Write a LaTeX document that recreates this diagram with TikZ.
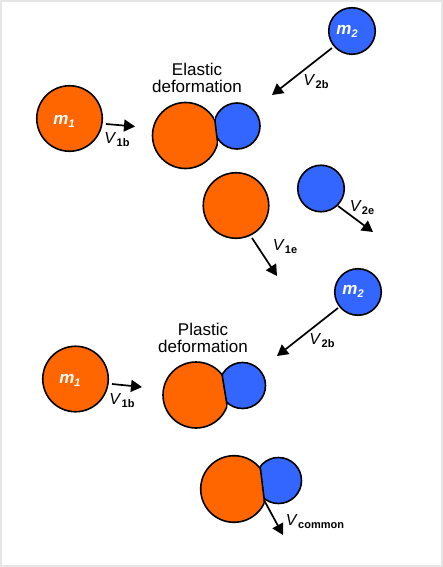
\documentclass[tikz,border=0pt]{standalone}
\usepackage{fontspec}
\setmainfont{Liberation Sans}
\usetikzlibrary{arrows.meta,calc}
\definecolor{orng}{HTML}{FF6600}
\definecolor{blu}{HTML}{3366FF}
\definecolor{framec}{HTML}{E6E6E6}
\newcommand\vel[2]{\textit{#1}\kern0.3pt\raisebox{-3pt}{\fontsize{11}{11}\selectfont\bfseries #2}}
\newcommand\mlab[1]{\textbf{\textit{m}}\raisebox{-3pt}{\fontsize{11}{11}\selectfont\bfseries\itshape #1}}
\newcommand\dpair[6]{%
  \coordinate (LA) at ($(#5)!-4!(#6)$);
  \coordinate (LB) at ($(#5)!5!(#6)$);
  \begin{scope}
    \clip (LA) -- (LB) -- ($(LB)+(-300,0)$) -- ($(LA)+(-300,0)$) -- cycle;
    \draw[outl,fill=orng] (#1) circle[radius=#2];
  \end{scope}
  \begin{scope}
    \clip (LA) -- (LB) -- ($(LB)+(300,0)$) -- ($(LA)+(300,0)$) -- cycle;
    \draw[outl,fill=blu] (#3) circle[radius=#4];
  \end{scope}
  \begin{scope}
    \clip (#1) circle[radius=#2] (#3) circle[radius=#4];
    \draw[outl] (LA) -- (LB);
  \end{scope}}
\begin{document}
\begin{tikzpicture}[x=1pt,y=-1pt,
  outl/.style={draw=black,line width=1.6pt},
  ball/.style={circle,draw=black,line width=1.6pt,inner sep=0pt},
  vec/.style={line width=1.7pt,-{Triangle[length=11pt,width=12pt]}},
  lab/.style={font=\fontsize{16}{17}\selectfont,inner sep=0pt},
  mass/.style={text=white,font=\fontsize{17}{17}\selectfont\bfseries\itshape,inner sep=0pt},
  ttl/.style={align=center,font=\fontsize{17}{17}\selectfont,inner sep=0pt}]
\fill[framec] (0,0) rectangle (443,567);
\fill[white] (2,2) rectangle (441,565);
\useasboundingbox (0,0) rectangle (443,567);

% ---------- Elastic ----------
\node[ball,fill=blu,minimum size=46.5pt] (m2a) at (352,31) {};
\node[mass] (m2alab) at (347,31) {\mlab{2}};
\coordinate (v2bs) at (332,48);
\coordinate (v2bt) at (272,95);
\draw[vec] (v2bs) -- (v2bt);
\node[lab] (v2blab) at (316,82) {\vel{V}{2b}};

\node[ttl] (elast) at (197,78.4) {Elastic\\deformation};

\node[ball,fill=orng,minimum size=65.5pt] (m1a) at (69.5,118.5) {};
\node[mass] (m1alab) at (64,121) {\mlab{1}};
\coordinate (v1bs) at (106,124);
\coordinate (v1bt) at (135,126.5);
\draw[vec] (v1bs) -- (v1bt);
\node[lab] (v1blab) at (117,140) {\vel{V}{1b}};

\dpair{185.5,135.5}{33}{237,126}{23}{214,113}{218,146}

\node[ball,fill=orng,minimum size=65.5pt] (o1e) at (236,205.5) {};
\coordinate (v1es) at (252,238);
\coordinate (v1et) at (277,276);
\draw[vec] (v1es) -- (v1et);
\node[lab] (v1elab) at (285,247) {\vel{V}{1e}};

\node[ball,fill=blu,minimum size=46.5pt] (b2e) at (321,188.5) {};
\coordinate (v2es) at (338,206);
\coordinate (v2et) at (373,232);
\draw[vec] (v2es) -- (v2et);
\node[lab] (v2elab) at (362,208) {\vel{V}{2e}};

% ---------- Plastic ----------
\node[ball,fill=blu,minimum size=46.5pt] (m2b) at (358,292) {};
\node[mass] (m2blab) at (353,291) {\mlab{2}};
\coordinate (p2bs) at (338,308);
\coordinate (p2bt) at (277,356);
\draw[vec] (p2bs) -- (p2bt);
\node[lab] (p2blab) at (322,341) {\vel{V}{2b}};

\node[ttl] (plast) at (203,338.4) {Plastic\\deformation};

\node[ball,fill=orng,minimum size=65.5pt] (m1b) at (75.5,379) {};
\node[mass] (m1blab) at (70,380) {\mlab{1}};
\coordinate (p1bs) at (112,384);
\coordinate (p1bt) at (142,387);
\draw[vec] (p1bs) -- (p1bt);
\node[lab] (p1blab) at (122,401) {\vel{V}{1b}};

\dpair{196,395}{33}{242.5,385.5}{23}{222,374}{227,405}

\dpair{234,489}{33.3}{278.5,480.5}{23}{260,465}{264,498}
\coordinate (vcs) at (264,500);
\coordinate (vct) at (283,535);
\draw[vec] (vcs) -- (vct);
\node[lab] (vclab) at (315,522) {\vel{V}{common}};
\end{tikzpicture}
\end{document}
